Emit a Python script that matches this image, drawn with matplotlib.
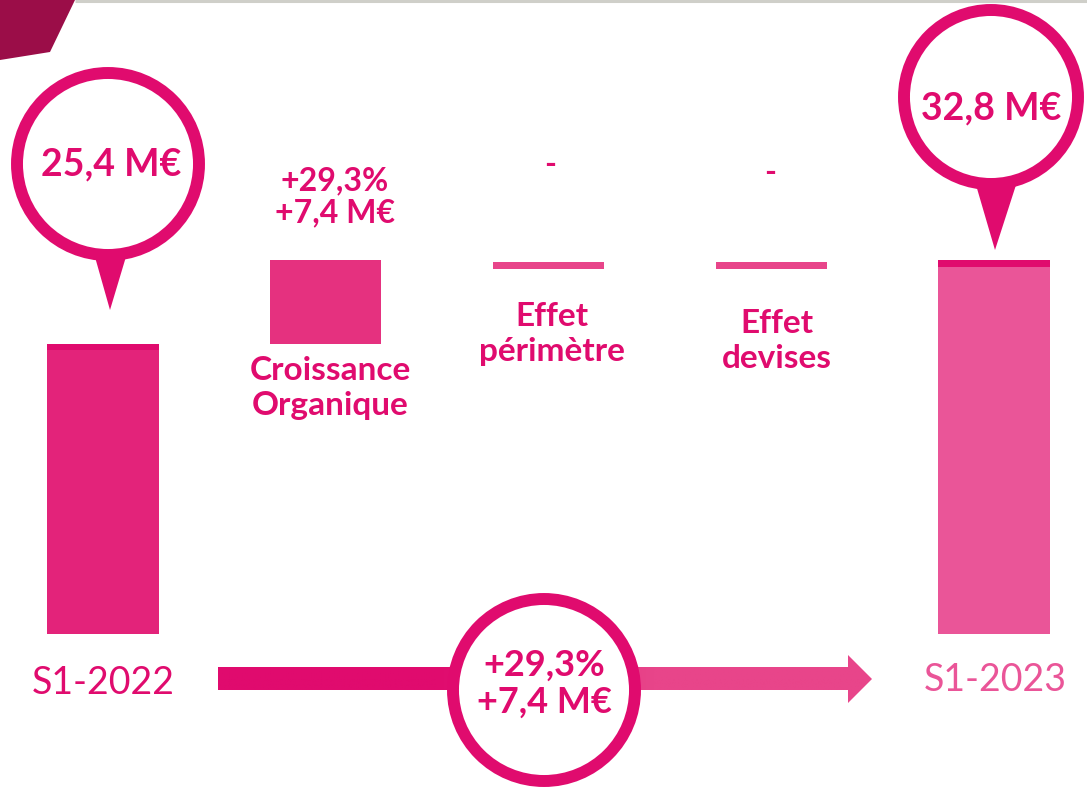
import matplotlib.pyplot as plt
from matplotlib.patches import Circle, Polygon
from matplotlib.colors import LinearSegmentedColormap
import numpy as np

plt.rcParams['font.family'] = ['Lato', 'DejaVu Sans']

# waterfall data (M€)
categories = ['S1-2022', 'Croissance\nOrganique', 'Effet\npérimètre', 'Effet\ndevises', 'S1-2023']
start_value = 25.4
effects = [7.4, 0.0, 0.0]
effect_labels = ['+29,3%\n+7,4 M€', '-', '-']
end_value = 32.8
total_label = '+29,3%\n+7,4 M€'

MAG = '#E00B6E'
fig = plt.figure(figsize=(10.87, 7.90), dpi=100)

# data axes: baseline 0 sits at pixel 634, ~11.4 px per M€
ax = fig.add_axes([0, 0, 1, 1])
ax.set_xlim(-0.462, 4.417)
ax.set_ylim(-13.68, 55.61)
ax.axis('off')

w = 0.5
ax.bar(0, start_value, width=w, color='#E3237A', zorder=2)
ax.bar(0, 0.5, bottom=start_value - 0.5, width=w, color='#E00B6E', zorder=3)

running = start_value
bar_cols = ['#E5317F', '#E8458A', '#E8458A']
for i, (v, c) in enumerate(zip(effects, bar_cols), start=1):
    if v == 0:
        ax.bar(i, 0.6, bottom=running - 0.8, width=w, color=c, zorder=2)
    else:
        ax.bar(i, v, bottom=running, width=w, color=c, zorder=2)
    running += v

ax.bar(4, end_value, width=w, color='#EA5598', zorder=2)
ax.bar(4, 0.6, bottom=end_value - 0.6, width=w, color='#E00B6E', zorder=3)

# overlay in pixel coords for the decorations
ov = fig.add_axes([0, 0, 1, 1], zorder=5)
ov.axis('off')
ov.patch.set_alpha(0)

# top-left corner shape and top rule
ov.add_patch(Polygon([(0, 0), (75, 0), (50, 52), (0, 60)], closed=True,
                     color='#9B0D48', lw=0))
ov.plot([75, 1087], [1, 1], color='#CFCFC9', lw=2.2, solid_capstyle='butt')

ring = 8.6

def pin(cx, cy, r, base_y, bx0, bx1, tip):
    ov.add_patch(Polygon([(bx0, base_y), (bx1, base_y), tip], closed=True,
                         color=MAG, lw=0, zorder=1))
    ov.add_patch(Circle((cx, cy), r, facecolor='white', edgecolor=MAG,
                        lw=ring, zorder=2))

pin(108, 164, 91, 250, 93, 128, (110, 310))
ov.text(111, 164, f'{start_value:.1f} M€'.replace('.', ','), ha='center', va='center',
        fontsize=27, fontweight='bold', color=MAG, zorder=3)
pin(991, 97, 87, 185, 976, 1016, (995, 250))
ov.text(991, 108, f'{end_value:.1f} M€'.replace('.', ','), ha='center', va='center',
        fontsize=27, fontweight='bold', color=MAG, zorder=3)

# labels above the effect bars and category names
top_pos = [(335, 197), (550, 165), (770, 172)]
for (x, y), t in zip(top_pos, effect_labels):
    ov.text(x, y, t, ha='center', va='center', fontsize=23, fontweight='bold',
            color=MAG, linespacing=1.1)

name_pos = [(330, 388), (552, 334), (777, 341)]
for (x, y), t in zip(name_pos, categories[1:4]):
    ov.text(x, y, t, ha='center', va='center', fontsize=24, fontweight='bold',
            color=MAG, linespacing=1.25)

ov.text(103, 683, categories[0], ha='center', va='center', fontsize=27, color=MAG)
ov.text(995, 680, categories[4], ha='center', va='center', fontsize=27, color='#EA5598')

# gradient arrow
arrow = Polygon([(218, 667), (848, 667), (848, 655), (872, 679), (848, 703),
                 (848, 690), (218, 690)], closed=True, facecolor='none', lw=0)
ov.add_patch(arrow)
grad = np.linspace(0, 1, 256).reshape(1, -1)
cmap = LinearSegmentedColormap.from_list('g', ['#E00B6E', '#E00B6E', '#E8458A', '#E8458A'])
im = ov.imshow(grad, extent=(218, 872, 703, 655), cmap=cmap, aspect='auto', zorder=1)
im.set_clip_path(arrow)

ov.add_patch(Circle((544, 690), 91, facecolor='white', edgecolor=MAG, lw=ring, zorder=2))
ov.text(544, 684, total_label, ha='center', va='center', fontsize=26,
        fontweight='bold', color=MAG, linespacing=1.15, zorder=3)

ov.set_xlim(0, 1087)
ov.set_ylim(790, 0)

fig.savefig('out.png', dpi=100, facecolor='white')
